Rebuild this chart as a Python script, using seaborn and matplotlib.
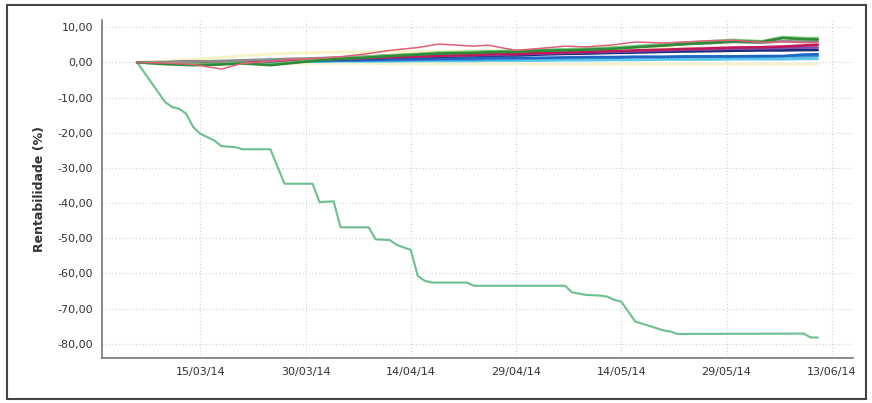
import pandas as pd
import numpy as np
import matplotlib
matplotlib.use("Agg")
import matplotlib.pyplot as plt
import matplotlib.dates as mdates
from matplotlib.ticker import FuncFormatter
from matplotlib.patches import Rectangle
import seaborn as sns

# --- data ---
# shared dates for the cluster of funds near zero
cluster_dates = ["2014-03-06", "2014-03-10", "2014-03-14", "2014-03-18", "2014-03-21",
                 "2014-03-25", "2014-03-28", "2014-04-01", "2014-04-04", "2014-04-08",
                 "2014-04-11", "2014-04-15", "2014-04-18", "2014-04-23", "2014-04-25",
                 "2014-04-29", "2014-05-02", "2014-05-06", "2014-05-09", "2014-05-13",
                 "2014-05-16", "2014-05-20", "2014-05-23", "2014-05-27", "2014-05-30",
                 "2014-06-03", "2014-06-06", "2014-06-09", "2014-06-11"]

pink = [0, -0.2, -0.6, -1.9, -0.3, 0.3, 0.8, 1.2, 1.6, 2.5, 3.4, 4.2, 5.2, 4.6, 4.9,
        3.4, 3.9, 4.6, 4.4, 5.0, 5.8, 5.5, 5.8, 6.2, 6.3, 5.7, 5.9, 5.6, 5.6]
dark_green = [0, -0.5, -0.8, -0.6, -0.3, -0.8, -0.2, 0.6, 1.0, 1.4, 1.8, 2.2, 2.5, 2.7, 2.9,
              3.0, 3.3, 3.4, 3.6, 3.9, 4.3, 4.8, 5.2, 5.6, 6.0, 5.8, 6.9, 6.6, 6.5]
light_green = [0, -0.3, -0.6, -0.4, -0.1, -0.5, 0, 0.7, 1.1, 1.6, 2.0, 2.4, 2.8, 3.0, 3.1,
               3.3, 3.5, 3.7, 3.9, 4.2, 4.6, 5.1, 5.6, 6.0, 6.4, 6.0, 7.2, 6.9, 6.9]
gray = [0, 0.1, 0.2, 0.4, 0.6, 0.8, 1.0, 1.2, 1.4, 1.7, 2.0, 2.3, 2.6, 2.8, 3.0,
        3.2, 3.4, 3.6, 3.8, 4.1, 4.4, 4.8, 5.2, 5.5, 5.8, 5.6, 6.0, 5.9, 5.9]
pale_yellow = [0, 0.4, 0.9, 1.4, 1.9, 2.3, 2.6, 2.8, 2.9, 3.0, 3.1, 3.1, 3.2, 3.3, 3.4,
               3.4, 3.5, 3.6, 3.7, 3.8, 3.9, 4.0, 4.1, 4.2, 4.3, 4.3, 4.4, 4.4, 4.5]
crimson = [0, 0, 0.1, 0.2, 0.3, 0.5, 0.7, 0.9, 1.1, 1.3, 1.5, 1.7, 1.9, 2.1, 2.3,
           2.4, 2.6, 2.8, 3.0, 3.2, 3.4, 3.6, 3.8, 4.0, 4.2, 4.3, 4.5, 4.8, 5.0]
purple = [0, 0, 0.1, 0.2, 0.3, 0.4, 0.6, 0.8, 1.0, 1.2, 1.4, 1.6, 1.8, 2.0, 2.1,
          2.3, 2.5, 2.7, 2.9, 3.0, 3.2, 3.4, 3.6, 3.7, 3.9, 4.0, 4.1, 4.2, 4.2]
navy = [0, 0, 0.1, 0.2, 0.3, 0.4, 0.5, 0.7, 0.9, 1.1, 1.3, 1.5, 1.6, 1.8, 1.9,
        2.0, 2.2, 2.4, 2.5, 2.7, 2.8, 3.0, 3.1, 3.2, 3.3, 3.4, 3.4, 3.5, 3.5]
blue = [0, 0, 0.1, 0.2, 0.2, 0.3, 0.4, 0.5, 0.6, 0.7, 0.8, 0.9, 1.0, 1.1, 1.2,
        1.3, 1.3, 1.4, 1.5, 1.5, 1.6, 1.6, 1.7, 1.7, 1.7, 1.8, 1.8, 2.2, 2.3]
steel_blue = [0, 0, 0.1, 0.1, 0.2, 0.3, 0.3, 0.4, 0.5, 0.5, 0.6, 0.7, 0.8, 0.8, 0.9,
              1.0, 1.1, 1.2, 1.3, 1.3, 1.4, 1.4, 1.5, 1.5, 1.6, 1.6, 1.7, 1.7, 1.8]
light_blue = [0, 0, 0, 0.1, 0.1, 0.1, 0.2, 0.2, 0.3, 0.3, 0.3, 0.4, 0.4, 0.4, 0.5,
              0.5, 0.5, 0.6, 0.6, 0.7, 0.7, 0.8, 0.8, 0.8, 0.9, 0.9, 0.9, 1.0, 1.0]
cream = [0, -0.1, -0.1, -0.2, -0.2, -0.2, -0.3, -0.3, -0.3, -0.3, -0.4, -0.4, -0.4, -0.4, -0.4,
         -0.4, -0.5, -0.5, -0.5, -0.5, -0.5, -0.5, -0.5, -0.5, -0.5, -0.5, -0.5, -0.5, -0.5]

cluster_series = {
    "Fundo A": (cream, "#f5f1cc"),
    "Fundo B": (pale_yellow, "#f6f3c4"),
    "Fundo C": (light_blue, "#5cc8ee"),
    "Fundo D": (steel_blue, "#3a9ad0"),
    "Fundo E": (blue, "#1f66c4"),
    "Fundo F": (navy, "#1c2a78"),
    "Fundo G": (purple, "#7b4fb0"),
    "Fundo H": (crimson, "#c0185a"),
    "Fundo I": (gray, "#8c8c8c"),
    "Fundo J": (light_green, "#7ccf7c"),
    "Fundo K": (dark_green, "#2f8a3a"),
}
pink_color = "#e0607a"

# the fund that collapsed
drop_dates = ["2014-03-06", "2014-03-10", "2014-03-11", "2014-03-12", "2014-03-13",
              "2014-03-14", "2014-03-15", "2014-03-17", "2014-03-18", "2014-03-20",
              "2014-03-21", "2014-03-25", "2014-03-27", "2014-03-31", "2014-04-01",
              "2014-04-03", "2014-04-04", "2014-04-08", "2014-04-09", "2014-04-11",
              "2014-04-12", "2014-04-14", "2014-04-15", "2014-04-16", "2014-04-17",
              "2014-04-22", "2014-04-23", "2014-05-06", "2014-05-07", "2014-05-09",
              "2014-05-11", "2014-05-12", "2014-05-13", "2014-05-14", "2014-05-16",
              "2014-05-18", "2014-05-20", "2014-05-21", "2014-05-22", "2014-06-09",
              "2014-06-10", "2014-06-11"]
drop_values = [0, -11.3, -12.7, -13.2, -14.6, -18.4, -20.3, -22.2, -23.8, -24.1,
               -24.7, -24.7, -34.5, -34.5, -39.7, -39.5, -46.9, -46.9, -50.3, -50.5,
               -51.9, -53.3, -60.7, -62.1, -62.6, -62.6, -63.5, -63.5, -65.4, -66.1,
               -66.3, -66.6, -67.5, -68.0, -73.7, -74.9, -76.2, -76.5, -77.2, -77.1,
               -78.2, -78.2]

xtick_dates = ["2014-03-15", "2014-03-30", "2014-04-14", "2014-04-29",
               "2014-05-14", "2014-05-29", "2014-06-13"]
yticks = [10, 0, -10, -20, -30, -40, -50, -60, -70, -80]

# long-form table for seaborn
rows = []
for name, (vals, _) in cluster_series.items():
    for d, v in zip(cluster_dates, vals):
        rows.append((name, pd.Timestamp(d), v))
cluster_df = pd.DataFrame(rows, columns=["fundo", "data", "rent"])
pink_df = pd.DataFrame({"data": pd.to_datetime(cluster_dates), "rent": pink})
drop_df = pd.DataFrame({"data": pd.to_datetime(drop_dates), "rent": drop_values})

sns.set_style("white")
plt.rcParams["font.family"] = ["DejaVu Sans"]

fig = plt.figure(figsize=(8.72, 4.03), dpi=100)
ax = fig.add_axes([0.117, 0.112, 0.861, 0.838])

sns.lineplot(data=drop_df, x="data", y="rent", color="#6cc08e", linewidth=1.5,
             sort=False, ax=ax, legend=False)
sns.lineplot(data=cluster_df, x="data", y="rent", hue="fundo",
             palette={k: c for k, (_, c) in cluster_series.items()},
             linewidth=1.9, sort=False, ax=ax, legend=False)
sns.lineplot(data=pink_df, x="data", y="rent", color=pink_color, linewidth=1.1,
             sort=False, ax=ax, legend=False)

ax.set_xlim(pd.Timestamp("2014-03-01"), pd.Timestamp("2014-06-16"))
ax.set_ylim(-84, 12)
ax.set_xticks(pd.to_datetime(xtick_dates))
ax.xaxis.set_major_formatter(mdates.DateFormatter("%d/%m/%y"))
ax.set_yticks(yticks)
ax.yaxis.set_major_formatter(FuncFormatter(lambda v, p: f"{v:.2f}".replace(".", ",")))

ax.grid(True, color="#d2d2d2", linestyle=(0, (1, 2)), linewidth=0.8)
for s in ["top", "right"]:
    ax.spines[s].set_visible(False)
for s in ["left", "bottom"]:
    ax.spines[s].set_color("#777777")
    ax.spines[s].set_linewidth(1.2)
ax.tick_params(axis="both", colors="#777777", length=3, width=0.8, labelsize=8,
               labelcolor="#333333", direction="out")
ax.set_xlabel("")
ax.set_ylabel("Rentabilidade (%)", fontsize=9, fontweight="bold", color="#333333", labelpad=8)

# outer frame around the whole chart
fig.patches.append(Rectangle((7 / 872, 4 / 403), 859 / 872, 394 / 403, transform=fig.transFigure,
                             fill=False, edgecolor="#444444", linewidth=1.5))

fig.savefig("out.png", dpi=100)
